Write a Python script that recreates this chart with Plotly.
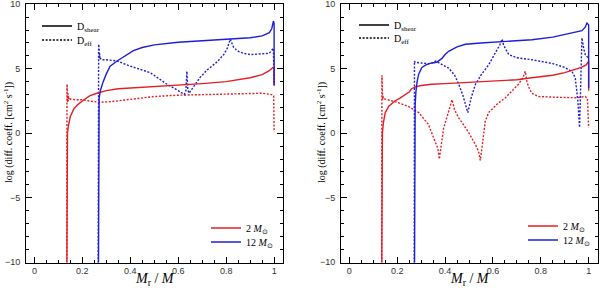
import plotly.graph_objects as go

# ---------------- data ----------------
# Left panel
L_2_shear_x = [0.135, 0.136, 0.138, 0.142, 0.15, 0.165, 0.18, 0.2, 0.23, 0.26, 0.3, 0.35, 0.4, 0.5, 0.6, 0.7, 0.8, 0.9, 0.95, 0.98, 0.995, 1.0, 1.0]
L_2_shear_y = [-12, -1.0, 0.0, 0.6, 1.3, 1.9, 2.2, 2.5, 2.9, 3.1, 3.3, 3.45, 3.5, 3.6, 3.75, 3.85, 4.0, 4.3, 4.55, 4.85, 5.1, 5.1, 3.7]

L_2_eff_x = [0.135, 0.136, 0.137, 0.138, 0.139, 0.14, 0.141, 0.142, 0.144, 0.15, 0.17, 0.2, 0.23, 0.27, 0.32, 0.4, 0.5, 0.6, 0.7, 0.8, 0.9, 0.95, 0.99, 0.998, 1.0]
L_2_eff_y = [-12, 3.8, 2.2, 3.4, 2.4, 3.1, 2.5, 2.9, 2.6, 2.65, 2.6, 2.6, 2.5, 2.4, 2.45, 2.65, 2.85, 2.95, 3.0, 3.05, 3.1, 3.1, 3.0, 2.9, 0.1]

L_12_shear_x = [0.267, 0.268, 0.27, 0.275, 0.28, 0.287, 0.3, 0.316, 0.345, 0.38, 0.413, 0.45, 0.5, 0.6, 0.7, 0.8, 0.9, 0.95, 0.98, 0.99, 0.997, 1.0, 1.0]
L_12_shear_y = [-12, 1.5, 2.7, 3.3, 3.6, 4.0, 4.6, 5.2, 5.6, 6.0, 6.4, 6.65, 6.85, 7.05, 7.15, 7.25, 7.4, 7.55, 7.8, 8.1, 8.7, 8.5, 3.7]

L_12_eff_x = [0.266, 0.267, 0.268, 0.269, 0.27, 0.271, 0.272, 0.274, 0.276, 0.28, 0.3, 0.345, 0.4, 0.483, 0.553, 0.6, 0.625, 0.632, 0.636, 0.64, 0.645, 0.66, 0.69, 0.72, 0.76, 0.79, 0.805, 0.817, 0.83, 0.845, 0.87, 0.9, 0.95, 0.98, 0.997, 1.0]
L_12_eff_y = [-12, 2.5, 6.9, 5.6, 6.6, 5.8, 6.2, 5.7, 5.8, 5.7, 5.7, 5.6, 5.2, 4.7, 3.8, 3.3, 3.0, 3.3, 4.8, 3.4, 3.1, 3.5, 4.3, 4.9, 5.5, 6.1, 6.6, 7.3, 6.7, 6.4, 6.2, 6.1, 6.15, 6.2, 6.6, 3.8]

# Right panel
R_2_shear_x = [0.135, 0.136, 0.138, 0.142, 0.15, 0.165, 0.19, 0.21, 0.234, 0.25, 0.26, 0.276, 0.3, 0.344, 0.4, 0.485, 0.6, 0.7, 0.762, 0.85, 0.9, 0.95, 0.97, 0.99, 1.0, 1.0]
R_2_shear_y = [-12, -1.0, 0.0, 0.8, 1.6, 2.1, 2.5, 2.7, 3.0, 3.2, 3.45, 3.6, 3.7, 3.8, 3.85, 3.95, 4.05, 4.15, 4.3, 4.5, 4.7, 4.95, 5.1, 5.3, 5.6, 3.3]

R_2_eff_x = [0.135, 0.136, 0.137, 0.138, 0.139, 0.14, 0.142, 0.15, 0.2, 0.25, 0.29, 0.33, 0.359, 0.37, 0.376, 0.382, 0.394, 0.415, 0.429, 0.44, 0.457, 0.499, 0.533, 0.541, 0.547, 0.553, 0.568, 0.582, 0.62, 0.652, 0.707, 0.725, 0.735, 0.742, 0.749, 0.762, 0.79, 0.85, 0.9, 0.95, 0.986, 0.995, 1.0]
R_2_eff_y = [-12, 4.5, 2.6, 3.2, 2.6, 2.9, 2.7, 2.65, 2.4, 2.05, 1.6, 0.7, -0.6, -1.2, -2.0, -1.1, 0.4, 1.7, 2.6, 1.8, 1.2, 0.05, -1.1, -1.5, -2.1, -1.3, 0.95, 1.6, 2.3, 2.75, 3.8, 4.3, 4.8, 4.0, 3.6, 3.1, 2.85, 2.8, 2.75, 2.75, 2.85, 2.7, 0.4]

R_12_shear_x = [0.272, 0.273, 0.275, 0.278, 0.283, 0.29, 0.303, 0.32, 0.345, 0.365, 0.387, 0.4, 0.415, 0.45, 0.485, 0.55, 0.624, 0.7, 0.763, 0.85, 0.9, 0.95, 0.972, 0.985, 0.993, 1.0, 1.0]
R_12_shear_y = [-12, 0.5, 2.2, 3.2, 4.0, 4.6, 5.1, 5.3, 5.45, 5.5, 5.8, 6.1, 6.35, 6.7, 6.9, 7.0, 7.1, 7.2, 7.25, 7.45, 7.65, 7.85, 7.95, 8.2, 8.55, 8.4, 3.5]

R_12_eff_x = [0.271, 0.272, 0.273, 0.275, 0.3, 0.33, 0.345, 0.355, 0.36, 0.37, 0.39, 0.415, 0.44, 0.457, 0.475, 0.49, 0.495, 0.5, 0.51, 0.527, 0.55, 0.582, 0.61, 0.63, 0.638, 0.645, 0.666, 0.7, 0.763, 0.85, 0.9, 0.93, 0.944, 0.955, 0.962, 0.966, 0.972, 0.98, 0.986, 1.0]
R_12_eff_y = [-12, 5.6, 5.5, 5.5, 5.45, 5.4, 5.45, 5.5, 5.6, 5.5, 5.3, 5.05, 4.5, 3.8, 2.9, 2.0, 1.6, 2.0, 2.8, 3.8, 4.5, 5.3, 6.2, 6.9, 7.3, 6.8, 6.1, 5.85, 5.7, 5.4, 5.1, 4.8, 4.3, 2.5, 0.45, 4.0, 7.4, 6.5, 6.1, 5.8]

x_tickvals = [0, 0.2, 0.4, 0.6, 0.8, 1]
x_ticktext = ["0", "0.2", "0.4", "0.6", "0.8", "1"]
y_tickvals = [-10, -5, 0, 5, 10]

RED = "rgb(228,30,36)"
BLUE = "rgb(30,30,215)"
DOT = "2px,1.6px"
W = 1.4

fig = go.Figure()

panels = [
    ("x", "y", L_2_shear_x, L_2_shear_y, L_2_eff_x, L_2_eff_y, L_12_shear_x, L_12_shear_y, L_12_eff_x, L_12_eff_y),
    ("x2", "y2", R_2_shear_x, R_2_shear_y, R_2_eff_x, R_2_eff_y, R_12_shear_x, R_12_shear_y, R_12_eff_x, R_12_eff_y),
]
for xa, ya, a, b, c, d, e, f, g, h in panels:
    fig.add_trace(go.Scatter(x=c, y=d, xaxis=xa, yaxis=ya, mode="lines", line=dict(color=RED, width=W, dash=DOT), showlegend=False))
    fig.add_trace(go.Scatter(x=g, y=h, xaxis=xa, yaxis=ya, mode="lines", line=dict(color=BLUE, width=W, dash=DOT), showlegend=False))
    fig.add_trace(go.Scatter(x=a, y=b, xaxis=xa, yaxis=ya, mode="lines", line=dict(color=RED, width=W), showlegend=False))
    fig.add_trace(go.Scatter(x=e, y=f, xaxis=xa, yaxis=ya, mode="lines", line=dict(color=BLUE, width=W), showlegend=False))

W_PX, H_PX = 600, 291
def px(v):
    return v / W_PX
def py(v):
    return 1 - v / H_PX

# legend entries: one small legend per entry for exact placement
entries = [
    # name, color, dash, axis, legend id, line-start px, center py
    ("D<sub>shear</sub>", "black", None, "x", "y", 42, 26),
    ("D<sub>eff</sub>", "black", DOT, "x", "y", 42, 40),
    ("2 <i>M</i><sub>⊙</sub>", RED, None, "x", "y", 211, 228),
    ("12 <i>M</i><sub>⊙</sub>", BLUE, None, "x", "y", 211, 242),
    ("D<sub>shear</sub>", "black", None, "x2", "y2", 359, 25),
    ("D<sub>eff</sub>", "black", DOT, "x2", "y2", 359, 38),
    ("2 <i>M</i><sub>⊙</sub>", RED, None, "x2", "y2", 528, 226),
    ("12 <i>M</i><sub>⊙</sub>", BLUE, None, "x2", "y2", 528, 240),
]
legfont = dict(family="Liberation Serif, Times New Roman", size=10, color="black")
legends = {}
for i, (name, col, dash, xa, ya, lx, ly) in enumerate(entries):
    lid = "legend" if i == 0 else "legend%d" % (i + 1)
    fig.add_trace(go.Scatter(x=[None], y=[None], xaxis=xa, yaxis=ya, mode="lines", name=name,
                             line=dict(color=col, width=W, dash=dash), legend=lid))
    legends[lid] = dict(x=px(lx - 5), y=py(ly), xanchor="left", yanchor="middle",
                        bgcolor="rgba(0,0,0,0)", font=legfont, itemwidth=30)

tickfont = dict(family="Liberation Sans, Arial", size=9, color="#333")
xcommon = dict(range=[-0.035, 1.037], tickvals=x_tickvals, ticktext=x_ticktext, ticks="inside", ticklen=6,
               tickwidth=1, tickcolor="black", showline=True, linecolor="black", linewidth=1, mirror="ticks",
               showgrid=False, zeroline=False, tickfont=tickfont, automargin=False, ticklabeloverflow="allow",
               minor=dict(ticks="inside", dtick=0.05, tick0=0, ticklen=3, tickcolor="black", showgrid=False))
ycommon = dict(range=[-10.02, 10.02], tickvals=y_tickvals, ticks="inside", ticklen=6, tickwidth=1, tickcolor="black",
               showline=True, linecolor="black", linewidth=1, mirror="ticks", showgrid=False, zeroline=False,
               tickfont=tickfont, ticklabelstandoff=3, automargin=False, ticklabeloverflow="allow",
               minor=dict(ticks="inside", dtick=1, tick0=0, ticklen=3, tickcolor="black", showgrid=False))

ydom = [py(262.5), py(4)]

fig.update_layout(
    width=W_PX, height=H_PX, margin=dict(l=0, r=0, t=0, b=0, autoexpand=False),
    plot_bgcolor="white", paper_bgcolor="white",
    xaxis=dict(domain=[px(26), px(283)], anchor="y", **xcommon),
    yaxis=dict(domain=ydom, anchor="x", **ycommon),
    xaxis2=dict(domain=[px(341), px(597.5)], anchor="y2", **xcommon),
    yaxis2=dict(domain=ydom, anchor="x2", **ycommon),
    **legends,
)

titlefont = dict(family="Liberation Serif, Times New Roman", size=14, color="black")
yfont = dict(family="Liberation Serif, Times New Roman", size=10, color="black")
for xc in [154.5, 469.5]:
    fig.add_annotation(x=px(xc), y=py(279), xref="paper", yref="paper", text="<i>M</i><sub>r</sub> / <i>M</i>",
                       showarrow=False, font=titlefont, xanchor="center", yanchor="middle")
for xc in [9, 322]:
    fig.add_annotation(x=px(xc), y=py(133), xref="paper", yref="paper",
                       text="log (diff. coeff. [cm<sup>2</sup> s<sup>-1</sup>])",
                       showarrow=False, font=yfont, textangle=-90, xanchor="center", yanchor="middle")

fig.write_html("out.html", config={"displayModeBar": False},
               post_script="document.body.style.margin='0';")
